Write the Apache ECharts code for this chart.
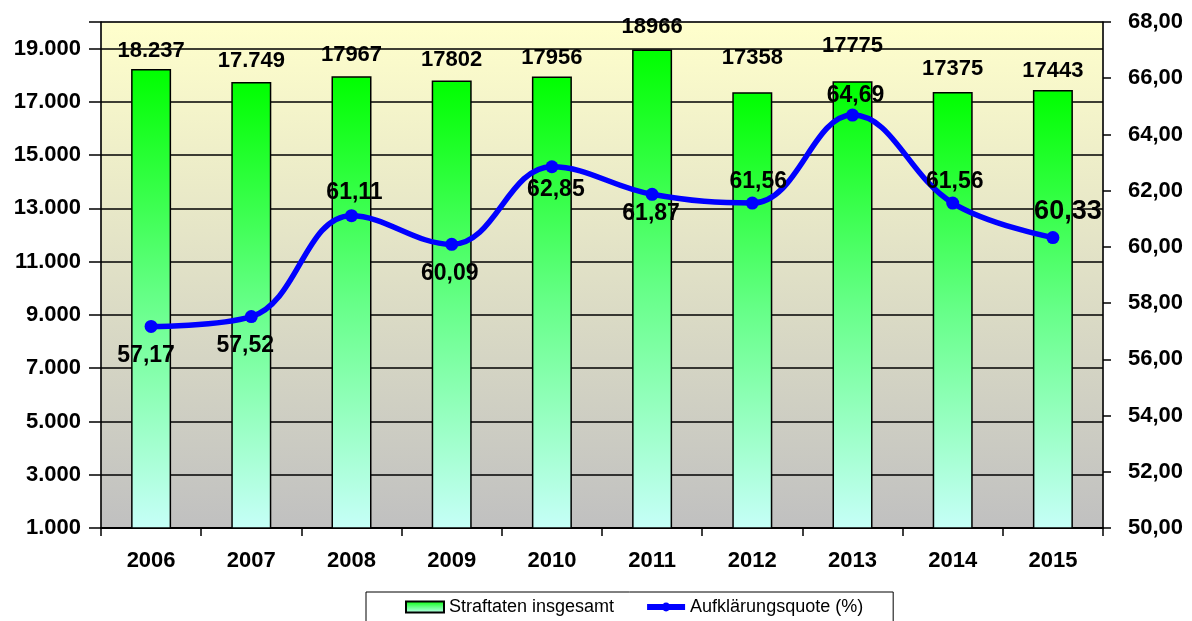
<!DOCTYPE html>
<html><head><meta charset="utf-8">
<script src="https://cdn.jsdelivr.net/npm/echarts@6/dist/echarts.min.js"></script>
<style>html,body{margin:0;padding:0;background:#fff}#c{width:1192px;height:621px}</style>
</head><body><div id="c"></div>
<script>
const years = ['2006','2007','2008','2009','2010','2011','2012','2013','2014','2015'];
const straftaten = [18237, 17749, 17967, 17802, 17956, 18966, 17358, 17775, 17375, 17443];
const straftatenLabels = ['18.237','17.749','17967','17802','17956','18966','17358','17775','17375','17443'];
const quote = [57.17, 57.52, 61.11, 60.09, 62.85, 61.87, 61.56, 64.69, 61.56, 60.33];

const FONT = '"Liberation Sans", Arial, sans-serif';
const de = v => String(v).replace(/\B(?=(\d{3})+(?!\d))/g, '.');
const dec = v => v.toFixed(2).replace('.', ',');

// label placement for the line points and bars (styling only)
const linePos = ['bottom','bottom','top','bottom','bottom','bottom','top','top','top','top'];
const lineOff = [[-5,3],[-6,3],[3,3],[-2,3],[4,-3],[-1,-7],[6,5],[3,7],[2,5],[15,2]];
const barDist = [7,10,10,10,7,12,23,24,12,8];

const chart = echarts.init(document.getElementById('c'), null, {renderer:'canvas'});
chart.setOption({
  animation:false,
  textStyle:{fontFamily:FONT},
  grid:{left:101,right:89,top:22,bottom:93,show:true,borderWidth:1,borderColor:'#888',
    backgroundColor:new echarts.graphic.LinearGradient(0,0,0,1,[{offset:0,color:'#FFFFCC'},{offset:1,color:'#C0C0C0'}])},
  legend:{
    left:366, top:592, padding:[6,30,10,39], itemGap:30,
    backgroundColor:'#fff', borderColor:'#000', borderWidth:1, borderRadius:0,
    itemWidth:38, itemHeight:11,
    lineStyle:{width:6},
    textStyle:{fontFamily:FONT,fontSize:18,color:'#000'},
    data:[{name:'Straftaten insgesamt',icon:'rect'},{name:'Aufklärungsquote (%)'}]
  },
  xAxis:{type:'category',data:years,boundaryGap:true,
    axisLine:{lineStyle:{color:'#000',width:2}},
    axisTick:{show:true,alignWithLabel:false,length:8,lineStyle:{color:'#000',width:1.5}},
    axisLabel:{fontFamily:FONT,fontSize:22,fontWeight:'bold',color:'#000',margin:22}
  },
  yAxis:[
    {type:'value',min:1000,max:20000,interval:2000,position:'left',
     axisLine:{show:true,lineStyle:{color:'#000',width:1.5}},
     axisTick:{show:true,length:12,lineStyle:{color:'#000',width:1.5}},
     splitLine:{show:true,lineStyle:{color:'#000',width:1.5}},
     axisLabel:{fontFamily:FONT,fontSize:22,fontWeight:'bold',color:'#000',margin:20,
       formatter:v=> v>19000 ? '' : de(v)}},
    {type:'value',min:50,max:68,interval:2,position:'right',
     axisLine:{show:true,lineStyle:{color:'#000',width:1.5}},
     axisTick:{show:true,length:8,lineStyle:{color:'#000',width:1.5}},
     splitLine:{show:false},
     axisLabel:{fontFamily:FONT,fontSize:22,fontWeight:'bold',color:'#000',margin:25,
       formatter:v=>dec(v)}}
  ],
  series:[
    {name:'Straftaten insgesamt',type:'bar',yAxisIndex:0,barWidth:40,
     itemStyle:{borderColor:'#000',borderWidth:1.5,
       color:new echarts.graphic.LinearGradient(0,0,0,1,[{offset:0,color:'#00FF00'},{offset:0.5,color:'#66FF88'},{offset:1,color:'#C6FFF8'}])},
     data:straftaten.map((v,i)=>({value:v,label:{show:true,position:'top',distance:barDist[i],
       formatter:()=>straftatenLabels[i],fontFamily:FONT,fontSize:22,fontWeight:'bold',color:'#000'}}))
    },
    {name:'Aufklärungsquote (%)',type:'line',yAxisIndex:1,smooth:0.4,z:5,
     symbol:'circle',symbolSize:13,
     lineStyle:{color:'#0000FF',width:5.5},
     itemStyle:{color:'#0000FF'},
     data:quote.map((v,i)=>({value:v,label:{show:true,position:linePos[i],offset:lineOff[i],distance:8,
       formatter:p=>dec(p.value),fontFamily:FONT,fontSize:i===9?27:23,fontWeight:'bold',color:'#000'}}))
    }
  ]
});
</script></body></html>
